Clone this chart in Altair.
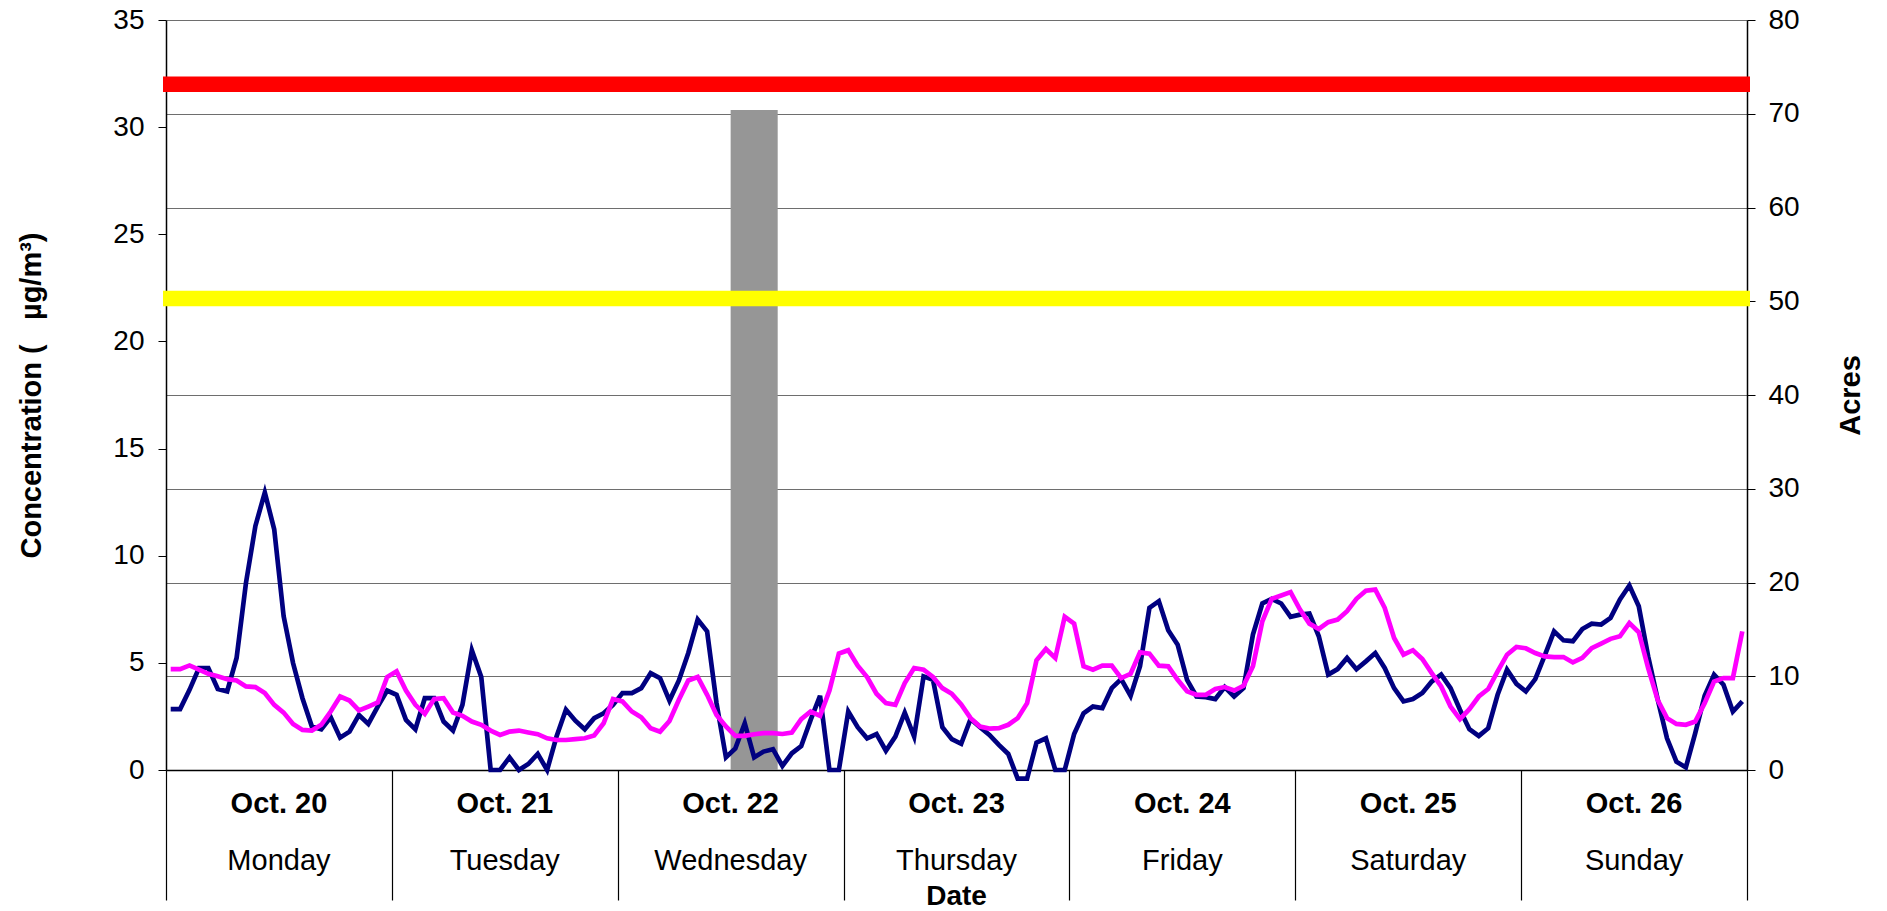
import altair as alt
import pandas as pd

# ---------------- data ----------------
navy = [2.84, 2.84, 3.74, 4.76, 4.76, 3.78, 3.67, 5.23, 8.74, 11.39, 12.95, 11.23, 7.18, 4.99, 3.35, 2.03,
        1.90, 2.46, 1.51, 1.79, 2.57, 2.15, 2.96, 3.71, 3.51, 2.34, 1.90, 3.35, 3.35, 2.26, 1.84, 3.04,
        5.59, 4.34, 0.0, 0.0, 0.59, 0.0, 0.28, 0.75, 0.0, 1.56, 2.82, 2.30, 1.90, 2.42, 2.65, 3.04,
        3.59, 3.59, 3.82, 4.52, 4.29, 3.24, 4.18, 5.46, 7.02, 6.47, 3.12, 0.59, 1.01, 2.18, 0.59, 0.86,
        0.97, 0.19, 0.78, 1.12, 2.34, 3.46, 0.0, 0.0, 2.73, 2.00, 1.48, 1.68, 0.90, 1.56, 2.68, 1.56,
        4.37, 4.21, 2.00, 1.44, 1.22, 2.38, 2.00, 1.64, 1.17, 0.75, -0.40, -0.40, 1.28, 1.48, 0.0, 0.0,
        1.68, 2.65, 2.96, 2.89, 3.82, 4.24, 3.46, 4.84, 7.57, 7.88, 6.52, 5.85, 4.21, 3.43, 3.40, 3.31,
        3.87, 3.43, 3.82, 6.32, 7.77, 7.99, 7.77, 7.15, 7.25, 7.30, 6.24, 4.45, 4.71, 5.23, 4.70, 5.07,
        5.46, 4.76, 3.82, 3.20, 3.31, 3.59, 4.13, 4.45, 3.82, 2.81, 1.90, 1.59, 1.95, 3.51, 4.68, 4.02,
        3.67, 4.24, 5.34, 6.47, 6.05, 6.01, 6.58, 6.83, 6.79, 7.10, 7.96, 8.61, 7.64, 5.30, 3.31, 1.48,
        0.39, 0.12, 1.72, 3.46, 4.45, 3.98, 2.73, 3.20]

magenta = [4.71, 4.71, 4.88, 4.68, 4.49, 4.37, 4.24, 4.18, 3.90, 3.87, 3.59, 3.04, 2.68, 2.15, 1.87, 1.84,
           2.11, 2.73, 3.43, 3.24, 2.78, 2.96, 3.15, 4.34, 4.60, 3.71, 3.04, 2.62, 3.31, 3.35, 2.68, 2.53,
           2.26, 2.11, 1.84, 1.64, 1.79, 1.84, 1.75, 1.67, 1.48, 1.40, 1.40, 1.44, 1.48, 1.61, 2.18, 3.31,
           3.20, 2.73, 2.46, 1.95, 1.79, 2.29, 3.28, 4.18, 4.34, 3.51, 2.57, 2.03, 1.59, 1.59, 1.67, 1.72,
           1.72, 1.68, 1.75, 2.37, 2.73, 2.53, 3.71, 5.43, 5.59, 4.87, 4.34, 3.56, 3.12, 3.04, 4.06, 4.76,
           4.68, 4.34, 3.82, 3.56, 3.06, 2.42, 2.03, 1.93, 1.95, 2.11, 2.42, 3.12, 5.12, 5.65, 5.23, 7.15,
           6.83, 4.84, 4.68, 4.87, 4.87, 4.29, 4.49, 5.49, 5.43, 4.87, 4.84, 4.21, 3.67, 3.51, 3.51, 3.78,
           3.87, 3.71, 3.93, 4.84, 6.94, 7.99, 8.14, 8.30, 7.49, 6.83, 6.58, 6.90, 7.02, 7.41, 7.99, 8.37,
           8.42, 7.57, 6.16, 5.38, 5.59, 5.18, 4.52, 3.90, 2.96, 2.37, 2.84, 3.43, 3.78, 4.60, 5.38, 5.74,
           5.68, 5.46, 5.30, 5.27, 5.27, 5.02, 5.23, 5.69, 5.90, 6.12, 6.24, 6.86, 6.43, 4.76, 3.28, 2.42,
           2.15, 2.11, 2.26, 3.12, 4.13, 4.29, 4.29, 6.47]

day_dates = ["Oct. 20", "Oct. 21", "Oct. 22", "Oct. 23", "Oct. 24", "Oct. 25", "Oct. 26"]
day_names = ["Monday", "Tuesday", "Wednesday", "Thursday", "Friday", "Saturday", "Sunday"]

thresholds = [32, 22]
threshold_colors = ["#FF0000", "#FFFF00"]

fire_start_hour = [60]
fire_end_hour = [65]
fire_acres = [70.4]

# ---------------- tables ----------------
hours = [i + 0.5 for i in range(len(navy))]
n_hours = len(navy)
line_df = pd.DataFrame({
    "h": hours * 2,
    "conc": navy + magenta,
    "series": ["navy"] * len(navy) + ["magenta"] * len(magenta),
})
thr_df = pd.DataFrame({"conc": thresholds, "color": threshold_colors})
bar_df = pd.DataFrame({"start": fire_start_hour, "end": fire_end_hour, "acres": fire_acres})
lab_df = pd.DataFrame({"h": [24 * k + 12 for k in range(7)], "date": day_dates, "day": day_names})
date_df = pd.DataFrame({"h": [n_hours / 2], "t": ["Date"]})

FONT = "Liberation Sans"
W, H = 1581, 750

xscale = alt.Scale(domain=[0, n_hours], nice=False, zero=False)
xaxis = alt.Axis(values=list(range(0, n_hours + 1, 24)), tickSize=130, labels=False, title=None,
                 grid=False, domainColor="black", domainWidth=1.5, tickColor="black", tickWidth=1.2)

conc_scale = alt.Scale(domain=[0, 35], nice=False, zero=False)
conc_axis = alt.Axis(orient="left", values=list(range(0, 36, 5)), grid=False, tickSize=8,
                     tickColor="black", domainColor="black", domainWidth=1.5, labelPadding=14,
                     labelFontSize=28, labelColor="black", labelFont=FONT,
                     title="Concentration (\u00a0\u00a0\u00a0µg/m³)", titleFontSize=29, titleFontWeight="bold",
                     titleFont=FONT, titleColor="black", titleAngle=270, titleBaseline="bottom",
                     titlePadding=66)

acres_scale = alt.Scale(domain=[0, 80], nice=False, zero=False)
acres_axis = alt.Axis(orient="right", values=list(range(0, 81, 10)), grid=True, gridColor="#6e6e6e",
                      gridWidth=1, tickSize=8, tickColor="black", domainColor="black", domainWidth=1.5,
                      labelPadding=13, labelFontSize=28, labelColor="black", labelFont=FONT,
                      title="Acres", titleFontSize=29, titleFontWeight="bold", titleFont=FONT,
                      titleColor="black", titleAngle=270, titleBaseline="top", titlePadding=37)

bar = alt.Chart(bar_df).mark_rect(color="#969696").encode(
    x=alt.X("start:Q", scale=xscale, axis=xaxis),
    x2="end:Q",
    y=alt.Y("acres:Q", scale=acres_scale, axis=acres_axis),
    y2=alt.datum(0),
)

lines = alt.Chart(line_df).mark_line(strokeWidth=4.7).encode(
    x=alt.X("h:Q", scale=xscale, axis=xaxis),
    y=alt.Y("conc:Q", scale=conc_scale, axis=conc_axis),
    color=alt.Color("series:N", scale=alt.Scale(domain=["navy", "magenta"], range=["#000080", "#FF00FF"]),
                    legend=None),
    detail="series:N",
)

rules = alt.Chart(thr_df).mark_rule(strokeWidth=15.5).encode(
    x=alt.value(-3), x2=alt.value(W + 3),
    y=alt.Y("conc:Q", scale=conc_scale, axis=conc_axis),
    color=alt.Color("color:N", scale=None),
)

conc_layer = alt.layer(lines, rules)

date_labels = alt.Chart(lab_df).mark_text(font=FONT, fontSize=29, fontWeight="bold", color="black",
                                          baseline="alphabetic", align="center").encode(
    x=alt.X("h:Q", scale=xscale, axis=xaxis), y=alt.value(793), text="date:N")
day_labels = alt.Chart(lab_df).mark_text(font=FONT, fontSize=29, color="black",
                                         baseline="alphabetic", align="center").encode(
    x=alt.X("h:Q", scale=xscale, axis=xaxis), y=alt.value(850), text="day:N")
date_title = alt.Chart(date_df).mark_text(font=FONT, fontSize=28, fontWeight="bold", color="black",
                                          baseline="alphabetic", align="center").encode(
    x=alt.X("h:Q", scale=xscale, axis=xaxis), y=alt.value(885), text="t:N")

chart = alt.layer(bar, conc_layer, date_labels, day_labels, date_title).resolve_scale(
    y="independent"
).properties(
    width=W, height=H,
    autosize=alt.AutoSizeParams(type="none"),
    padding={"left": 158, "top": 12, "right": 130, "bottom": 140},
    background="white",
).configure_view(stroke=None)

chart.save("out.html", embed_options={"renderer": "svg", "actions": False})
